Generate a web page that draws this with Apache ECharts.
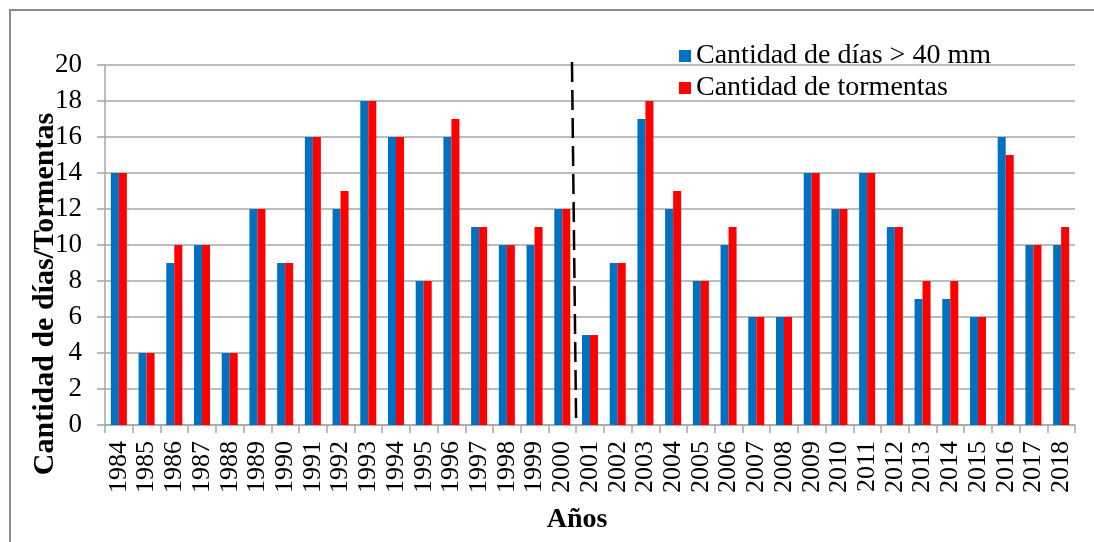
<!DOCTYPE html>
<html>
<head>
<meta charset="utf-8">
<script src="https://cdn.jsdelivr.net/npm/echarts@6/dist/echarts.min.js"></script>
<style>
  html, body { margin: 0; padding: 0; background: #fff; }
  #chart { width: 1094px; height: 542px; }
</style>
</head>
<body>
<div id="chart"></div>
<script>
// Years on the category axis
const years = ['1984','1985','1986','1987','1988','1989','1990','1991','1992','1993',
  '1994','1995','1996','1997','1998','1999','2000','2001','2002','2003','2004','2005',
  '2006','2007','2008','2009','2010','2011','2012','2013','2014','2015','2016','2017','2018'];

// Days with rainfall above 40 mm
const diasMas40 = [14,4,9,10,4,12,9,16,12,18,16,8,16,11,10,10,12,5,9,17,12,8,10,6,6,14,12,14,11,7,7,6,16,10,10];

// Number of storms
const tormentas = [14,4,10,10,4,12,9,16,13,18,16,8,17,11,10,11,12,5,9,18,13,8,11,6,6,14,12,14,11,8,8,6,15,10,11];

// Y axis ticks
const yTicks = [0,2,4,6,8,10,12,14,16,18,20];

// Divider between 2000 and 2001 (category-boundary units, value units)
const divider = [[16.85, 20.17], [17.0, 0]];

const serif = '"Liberation Serif", "Times New Roman", serif';
const gridColor = '#a6a6a6';

const chart = echarts.init(document.getElementById('chart'));
chart.setOption({
  animation: false,
  backgroundColor: '#fff',
  grid: { left: 105, right: 19, top: 65, bottom: 117, containLabel: false },
  legend: {
    orient: 'vertical',
    left: 674,
    top: 37,
    itemWidth: 12,
    itemHeight: 12,
    itemGap: 4,
    icon: 'rect',
    textStyle: { fontFamily: serif, fontSize: 28, color: '#000', padding: [0, 0, 0, 0] },
    data: ['Cantidad de días > 40 mm', 'Cantidad de tormentas']
  },
  xAxis: [{
    type: 'category',
    data: years,
    axisLine: { lineStyle: { color: gridColor, width: 1.5 } },
    axisTick: { show: true, length: 8, alignWithLabel: false, lineStyle: { color: gridColor, width: 1.5 } },
    axisLabel: { rotate: 90, fontFamily: serif, fontSize: 26, color: '#000', margin: 16, interval: 0, hideOverlap: false }
  }, {
    type: 'value',
    min: 0,
    max: years.length,
    show: false
  }],
  yAxis: {
    type: 'value',
    min: 0,
    max: 20,
    interval: 2,
    axisLine: { show: true, lineStyle: { color: gridColor, width: 1.5 } },
    axisTick: { show: true, length: 8, inside: false, lineStyle: { color: gridColor, width: 1.5 } },
    axisLabel: {
      fontFamily: serif, fontSize: 27, color: '#000', margin: 23,
      formatter: v => (yTicks.includes(v) ? String(v) : '')
    },
    splitLine: { lineStyle: { color: gridColor, width: 1.5 } }
  },
  series: [{
    name: 'Cantidad de días > 40 mm',
    type: 'bar',
    data: diasMas40,
    barWidth: 8,
    barGap: '0%',
    itemStyle: { color: '#0070C0' }
  }, {
    name: 'Cantidad de tormentas',
    type: 'bar',
    data: tormentas,
    barWidth: 8,
    barGap: '0%',
    itemStyle: { color: '#FF0000' }
  }, {
    name: 'divisor',
    type: 'line',
    xAxisIndex: 1,
    data: divider,
    symbol: 'none',
    clip: false,
    silent: true,
    lineStyle: { color: '#000', width: 2.5, type: [20, 8] },
    z: 5
  }],
  graphic: [{
    type: 'rect',
    shape: { x: 10, y: 10, width: 1200, height: 700 },
    style: { fill: 'none', stroke: '#8c8c8c', lineWidth: 2 },
    silent: true
  }, {
    type: 'text',
    x: 45,
    y: 294,
    rotation: Math.PI / 2,
    style: {
      text: 'Cantidad de días/Tormentas',
      font: 'bold 30px "Liberation Serif", "Times New Roman", serif',
      fill: '#000',
      align: 'center',
      verticalAlign: 'middle'
    }
  }, {
    type: 'text',
    x: 577,
    y: 520,
    style: {
      text: 'Años',
      font: 'bold 28px "Liberation Serif", "Times New Roman", serif',
      fill: '#000',
      align: 'center',
      verticalAlign: 'middle'
    }
  }]
});
</script>
</body>
</html>
